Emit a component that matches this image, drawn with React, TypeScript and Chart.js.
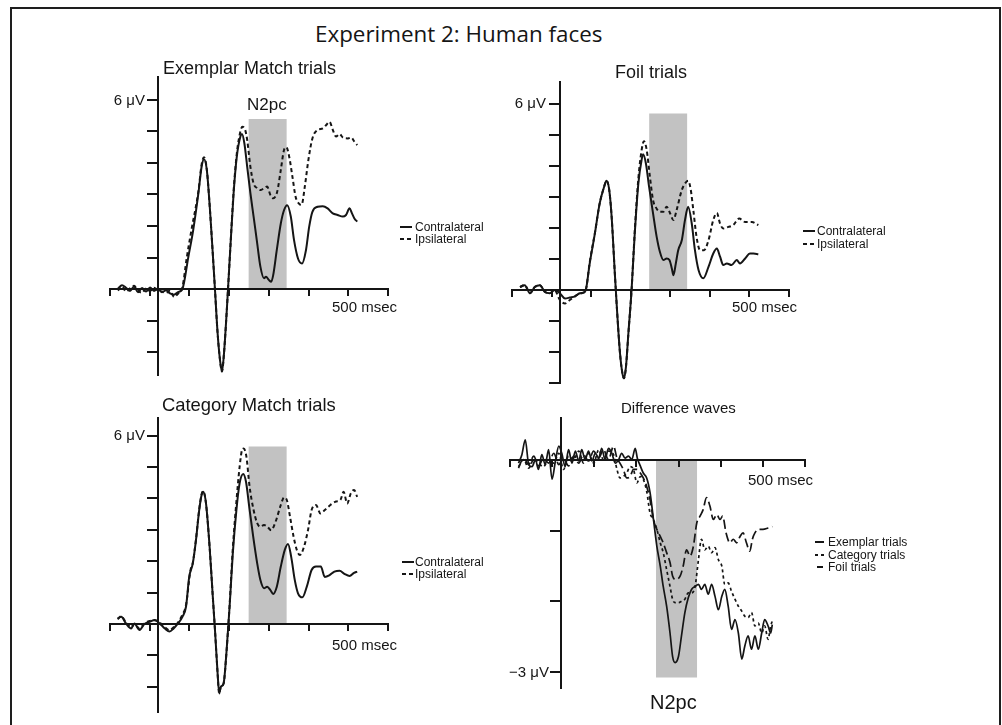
import React, { useEffect, useRef } from 'react';
import { Chart, registerables } from 'chart.js';

Chart.register(...registerables);

// ---------------- data (time in ms, amplitude in µV) ----------------
const exContraT = [-100,-90,-80,-70,-60,-50,-40,-30,-20,-10,0,10,20,30,40,50,61,76,88,101,109,115,122,130,139,143,149,155,160,165,172,181,189,197,206,210,216,223,231,239,248,256,265,270,277,283,288,297,307,315,323,332,340,350,360,370,378,386,399,412,424,437,449,462,470,479,485,491,498];
const exContraV = [0.02,0.12,0.04,-0.06,0.08,-0.1,0.03,-0.08,0.05,-0.06,0,-0.1,-0.04,-0.14,-0.18,-0.1,0,1.03,1.87,3.04,3.88,4.12,3.78,2.5,0.7,-0.14,-1.4,-2.25,-2.62,-2.04,-0.67,1.34,3.04,4.2,4.84,4.92,4.62,3.88,3.04,2.3,1.45,0.71,0.34,0.39,0.29,0.23,0.44,1.24,2.08,2.5,2.66,2.3,1.56,0.97,0.81,1.24,1.98,2.45,2.61,2.63,2.56,2.4,2.35,2.3,2.35,2.56,2.4,2.24,2.14];
const exIpsiT = [-100,-90,-80,-70,-60,-50,-40,-30,-20,-10,0,10,20,30,40,50,61,72,84,101,109,115,122,130,139,143,149,155,160,165,172,181,189,197,206,211,218,223,231,239,248,256,265,273,281,288,298,307,315,321,328,336,344,353,359,367,376,386,399,412,420,429,437,445,454,462,475,483,491,498];
const exIpsiV = [-0.05,0.08,-0.08,0.02,0.1,-0.05,-0.12,0.02,-0.06,0.04,-0.04,-0.08,-0.12,-0.05,-0.25,-0.15,0.05,1.0,1.9,3.1,3.95,4.18,3.8,2.5,0.7,-0.14,-1.4,-2.25,-2.62,-2.04,-0.67,1.34,3.1,4.3,5.0,5.15,5.05,4.73,3.88,3.35,3.2,3.14,3.2,3.25,2.98,2.88,3.09,3.78,4.41,4.5,4.2,3.57,2.93,2.7,2.67,3.25,4.1,4.78,5.05,5.1,5.2,5.31,5.05,4.84,4.92,4.81,4.78,4.81,4.68,4.57];

const foilContraT = [-100,-88,-75,-63,-50,-38,-25,-13,0,13,25,38,50,59,65,75,88,100,111,117,124,130,138,144,151,157,161,166,172,180,188,197,205,209,216,224,234,243,251,260,268,275,281,285,291,297,306,314,322,331,339,348,360,373,385,394,402,410,419,431,444,452,465,477,486,498];
const foilContraV = [0.1,0.16,-0.1,0.1,0.16,-0.05,-0.1,0,-0.1,-0.27,-0.24,-0.2,-0.1,-0.08,0,0.86,1.83,2.8,3.33,3.53,3.23,2.37,0.54,-0.75,-2.04,-2.69,-2.85,-2.47,-1.4,0,1.83,3.44,4.19,4.39,4.09,3.33,2.47,1.72,1.24,0.97,1.02,0.97,0.7,0.48,0.86,1.29,1.61,2.26,2.69,2.15,1.29,0.65,0.38,0.75,1.18,1.34,1.08,0.81,0.86,0.81,0.97,0.86,1.02,1.18,1.18,1.16];
const foilIpsiT = [-100,-88,-75,-63,-50,-38,-25,-13,0,13,25,38,50,59,65,75,88,100,111,117,124,130,138,144,151,157,161,166,172,180,188,197,205,211,218,226,234,243,251,260,268,276,285,293,306,314,322,328,335,343,352,362,373,385,394,402,410,423,435,450,465,482,498];
const foilIpsiV = [0.1,0.16,-0.1,0.1,0.16,-0.05,-0.1,0,-0.32,-0.43,-0.32,-0.2,-0.12,-0.08,0,0.9,1.85,2.8,3.33,3.53,3.23,2.37,0.54,-0.75,-2.04,-2.69,-2.85,-2.47,-1.4,0,1.9,3.6,4.5,4.81,4.52,3.66,2.9,2.63,2.53,2.53,2.69,2.5,2.26,2.58,3.23,3.44,3.53,3.28,2.58,1.72,1.29,1.29,1.61,2.26,2.49,2.15,1.99,2.04,2.1,2.31,2.2,2.2,2.1];

const catContraT = [-101,-92,-80,-67,-59,-46,-34,-21,-8,4,17,29,39,50,61,70,78,87,95,103,109,113,120,129,137,143,149,153,157,164,171,179,187,196,204,213,220,228,238,248,256,265,273,281,288,297,307,317,325,333,342,350,361,372,384,395,407,417,428,441,454,466,479,490,498];
const catContraV = [0.18,0.23,0.02,-0.14,0.02,-0.19,0,0.07,0.13,0.02,-0.14,-0.24,-0.14,0.02,0.23,0.55,1.5,1.93,2.68,3.63,4.11,4.21,3.84,2.46,0.87,-0.3,-1.57,-2.21,-2.0,-1.89,-0.93,0.55,2.25,3.63,4.48,4.78,4.53,3.74,2.78,1.93,1.4,1.14,1.19,1.08,0.96,1.19,1.83,2.36,2.55,2.14,1.4,0.98,0.85,1.19,1.72,1.83,1.83,1.5,1.55,1.67,1.7,1.6,1.53,1.63,1.67];
const catIpsiT = [-101,-92,-80,-67,-59,-46,-34,-21,-8,4,17,29,39,50,61,70,81,87,95,103,109,113,120,129,137,143,149,153,157,164,171,179,187,196,204,210,214,221,229,239,248,256,265,273,283,294,307,315,322,330,339,347,355,365,375,384,395,406,417,431,445,456,464,473,482,490,498];
const catIpsiV = [0.15,0.25,0.05,-0.1,0.0,-0.15,0.02,0.1,0.12,0.05,-0.1,-0.2,-0.1,0.05,0.3,0.6,1.7,1.95,2.7,3.65,4.13,4.23,3.84,2.46,0.87,-0.3,-1.57,-2.21,-2.0,-1.89,-0.93,0.6,2.4,3.9,5.0,5.54,5.59,5.33,4.37,3.63,3.21,3.1,3.15,3.1,2.99,3.26,3.79,4.03,3.95,3.42,2.78,2.36,2.2,2.46,2.99,3.63,3.79,3.52,3.63,3.79,3.9,3.95,4.21,3.84,4.16,4.27,4.05];

const diffExT = [-100,-92,-84,-76,-68,-60,-53,-45,-37,-29,-21,-13,-5,2,10,18,26,34,42,49,57,65,73,81,89,96,104,112,120,128,136,143,151,159,167,175,180,187,194,202,210,218,226,234,241,249,257,263,269,277,284,292,300,308,316,324,331,339,347,355,363,371,379,386,394,402,410,418,426,433,441,449,457,465,473,480,488,494,498];
const diffExV = [-0.04,0.08,0.29,-0.06,-0.09,0.01,-0.13,0.08,-0.06,0.15,-0.27,-0.01,0.2,0.1,-0.09,0.15,-0.04,0.13,-0.01,0.15,0.01,0.13,-0.01,0.1,0.03,0.17,0.01,0.17,0.1,-0.04,0.01,0.1,0.03,0.06,0.01,0.17,0.03,-0.08,-0.18,-0.25,-0.46,-0.84,-1.22,-1.5,-1.79,-2.07,-2.45,-2.78,-2.87,-2.78,-2.49,-2.16,-1.95,-1.83,-1.79,-1.76,-1.83,-1.76,-1.9,-1.76,-1.93,-2.12,-1.93,-1.83,-2.07,-2.4,-2.26,-2.45,-2.82,-2.64,-2.49,-2.68,-2.49,-2.68,-2.45,-2.26,-2.35,-2.45,-2.33];
const diffCatT = [-100,-88,-76,-64,-53,-41,-29,-17,-5,6,18,30,42,53,65,77,89,100,112,124,132,139,147,155,163,171,179,187,194,202,210,218,226,234,241,249,257,263,269,277,284,292,300,308,316,324,331,339,347,355,363,371,379,386,394,402,410,418,426,433,441,449,457,465,473,480,488,494,498];
const diffCatV = [-0.09,0.01,-0.11,0.01,-0.04,-0.09,0.01,-0.04,0.1,-0.13,0.06,0.01,0.13,-0.04,0.1,-0.04,0.15,0.01,0.13,0.08,-0.13,-0.25,-0.23,-0.18,-0.09,-0.13,-0.32,-0.23,-0.27,-0.44,-0.75,-0.84,-0.98,-1.17,-1.31,-1.55,-1.79,-1.97,-2.02,-2.02,-2.0,-1.97,-1.88,-1.88,-1.79,-1.41,-1.12,-1.27,-1.22,-1.31,-1.24,-1.41,-1.5,-1.76,-1.74,-1.86,-1.97,-2.07,-2.14,-2.21,-2.23,-2.16,-2.35,-2.31,-2.45,-2.35,-2.54,-2.35,-2.28];
const diffFoilT = [-100,-88,-76,-64,-53,-41,-29,-17,-5,6,18,30,42,53,65,77,89,100,112,124,132,139,147,155,163,171,179,187,194,202,210,218,226,234,241,249,257,263,271,281,288,296,304,312,320,328,335,343,351,359,367,375,381,389,398,406,414,422,429,437,445,451,457,465,476,488,498];
const diffFoilV = [-0.11,0.03,-0.06,0.06,-0.08,0.03,-0.04,0.1,-0.06,0.03,-0.08,0.06,-0.04,0.08,-0.01,0.13,0.03,0.15,0.01,0.2,0.03,-0.04,-0.13,-0.25,-0.23,-0.13,-0.13,-0.18,-0.25,-0.37,-0.56,-0.84,-0.98,-1.08,-1.17,-1.31,-1.45,-1.64,-1.69,-1.64,-1.5,-1.27,-1.36,-1.22,-0.89,-0.79,-0.7,-0.53,-0.65,-0.84,-0.77,-0.84,-0.79,-1.03,-1.17,-1.12,-1.17,-1.08,-1.03,-1.17,-1.29,-1.12,-1.03,-0.98,-0.98,-0.96,-0.94];

// N2pc window (ms) and shading extent (µV) per panel
const n2pcStart = [226, 224, 226, 224];
const n2pcEnd = [322, 320, 322, 321];
const n2pcExtent = [5.4, 5.7, 5.65, -3.08];

// tick labels
const xTickLabel = '500 msec';
const yTickLabels = ['6 μV', '6 μV', '6 μV', '−3 μV'];
const sideLegend = ['Contralateral', 'Ipsilateral'];
const diffLegend = ['Exemplar trials', 'Category trials', 'Foil trials'];

// ---------------- drawing ----------------
const SANS = '"Liberation Sans", Arial, Helvetica, sans-serif';
const INK = '#151515';
const PAD = { left: 60, top: 20, right: 60, bottom: 40 };

type Area = { left: number; top: number; right: number; bottom: number };
type Series = { t: number[]; v: number[]; dash: number[]; width: number };

function ErpChart(props: {
  area: Area; xMin: number; xMax: number; yMin: number; yMax: number;
  series: Series[]; idx: number;
}) {
  const { area, xMin, xMax, yMin, yMax, series, idx } = props;
  const ref = useRef<HTMLCanvasElement>(null);
  const w = area.right - area.left + PAD.left + PAD.right;
  const h = area.bottom - area.top + PAD.top + PAD.bottom;
  useEffect(() => {
    const datasets: any[] = series.map((s) => ({
      data: s.t.map((t, i) => ({ x: t, y: s.v[i] })),
      borderColor: INK,
      borderWidth: s.width,
      borderDash: s.dash,
      pointRadius: 0,
      fill: false,
      cubicInterpolationMode: 'monotone',
      order: 1,
    }));
    datasets.push({
      data: [
        { x: n2pcStart[idx], y: n2pcExtent[idx] },
        { x: n2pcEnd[idx], y: n2pcExtent[idx] },
      ],
      borderColor: 'rgba(0,0,0,0)',
      borderWidth: 0,
      backgroundColor: '#c2c2c2',
      fill: 'origin',
      pointRadius: 0,
      order: 5,
    });
    const chart = new Chart(ref.current as HTMLCanvasElement, {
      type: 'line',
      data: { datasets },
      options: {
        responsive: false,
        maintainAspectRatio: false,
        animation: false,
        layout: { padding: PAD },
        plugins: { legend: { display: false }, tooltip: { enabled: false }, title: { display: false } },
        scales: {
          x: {
            type: 'linear',
            min: xMin,
            max: xMax,
            position: { y: 0 } as any,
            afterFit: (s: any) => { s.height = 0; },
            grid: { drawOnChartArea: false, drawTicks: true, tickLength: 6, color: INK, lineWidth: 2, z: 1 },
            border: { display: true, color: INK, width: 2, z: 1 },
            ticks: { display: false, stepSize: 100, includeBounds: false, autoSkip: false, maxRotation: 0 },
          },
          y: {
            type: 'linear',
            min: yMin,
            max: yMax,
            position: { x: 0 } as any,
            afterFit: (s: any) => { s.width = 0; },
            grid: { drawOnChartArea: false, drawTicks: true, tickLength: 10, color: INK, lineWidth: 2, z: 1 },
            border: { display: true, color: INK, width: 2, z: 1 },
            ticks: { display: false, stepSize: 1, includeBounds: false, autoSkip: false },
          },
        },
      } as any,
    });
    return () => chart.destroy();
  }, []);
  return (
    <canvas
      ref={ref}
      width={w}
      height={h}
      style={{ position: 'absolute', left: area.left - PAD.left, top: area.top - PAD.top, width: w, height: h }}
    />
  );
}

function Txt(props: { x: number; base: number; size: number; text: string; family?: string; k?: number; right?: boolean }) {
  const { x, base, size, text, right } = props;
  const family = props.family || SANS;
  const k = props.k ?? 0.846;
  const pos: any = right ? { right: 1002 - x } : { left: x };
  return (
    <div
      style={{
        position: 'absolute', ...pos, top: base - k * size, fontFamily: family, fontSize: size,
        lineHeight: `${size}px`, color: INK, whiteSpace: 'nowrap',
      }}
    >
      {text}
    </div>
  );
}

function LegendRow(props: { x: number; len: number; y: number; dash?: string; textX: number; text: string; size: number }) {
  const { x, len, y, dash, textX, text, size } = props;
  return (
    <>
      <svg style={{ position: 'absolute', left: x, top: y - 2, overflow: 'visible' }} width={len} height={4}>
        <line x1={0} y1={2} x2={len} y2={2} stroke={INK} strokeWidth={2} strokeDasharray={dash} />
      </svg>
      <Txt x={textX} base={y + 0.36 * size} size={size} text={text} />
    </>
  );
}

export default function App() {
  const p1: Area = { left: 110, top: 77, right: 388, bottom: 375 };
  const p2: Area = { left: 512, top: 82, right: 789, bottom: 383 };
  const p3: Area = { left: 110, top: 418, right: 388, bottom: 712 };
  const p4: Area = { left: 510, top: 418, right: 805, bottom: 688 };
  const solid: number[] = [];
  const dotted = [4, 3];
  return (
    <div style={{ position: 'fixed', left: 0, top: 0, width: 1002, height: 725, background: '#fff', overflow: 'hidden' }}>
      <div style={{ position: 'absolute', left: 10, top: 7, width: 991, height: 760, border: '2px solid #1e1e1e', boxSizing: 'border-box' }} />
      <Txt x={315} base={42.5} size={22.4} family={'"Open Sans", sans-serif'} k={0.888} text="Experiment 2: Human faces" />

      <ErpChart area={p1} xMin={-120} xMax={575} yMin={-2.73} yMax={6.73} idx={0}
        series={[
          { t: exContraT, v: exContraV, dash: solid, width: 2 },
          { t: exIpsiT, v: exIpsiV, dash: dotted, width: 2 },
        ]} />
      <ErpChart area={p2} xMin={-120} xMax={575} yMin={-3.0} yMax={6.72} idx={1}
        series={[
          { t: foilContraT, v: foilContraV, dash: solid, width: 2 },
          { t: foilIpsiT, v: foilIpsiV, dash: dotted, width: 2 },
        ]} />
      <ErpChart area={p3} xMin={-120} xMax={575} yMin={-2.8} yMax={6.56} idx={2}
        series={[
          { t: catContraT, v: catContraV, dash: solid, width: 2 },
          { t: catIpsiT, v: catIpsiV, dash: dotted, width: 2 },
        ]} />
      <ErpChart area={p4} xMin={-120} xMax={575} yMin={-3.23} yMax={0.6} idx={3}
        series={[
          { t: diffExT, v: diffExV, dash: solid, width: 1.7 },
          { t: diffCatT, v: diffCatV, dash: [3, 3], width: 1.7 },
          { t: diffFoilT, v: diffFoilV, dash: [9, 4], width: 1.7 },
        ]} />

      <Txt x={163} base={74} size={18} text="Exemplar Match trials" />
      <Txt x={615} base={78} size={18} text="Foil trials" />
      <Txt x={162} base={412} size={18.4} text="Category Match trials" />
      <Txt x={621} base={413} size={15} text="Difference waves" />
      <Txt x={247} base={110} size={17} text="N2pc" />
      <Txt x={650} base={709} size={20} text="N2pc" />

      <Txt x={332} base={312} size={15} text={xTickLabel} />
      <Txt x={732} base={312} size={15} text={xTickLabel} />
      <Txt x={332} base={650} size={15} text={xTickLabel} />
      <Txt x={748} base={485} size={15} text={xTickLabel} />
      <Txt x={145} base={105} size={15} right text={yTickLabels[0]} />
      <Txt x={546} base={108} size={15} right text={yTickLabels[1]} />
      <Txt x={145} base={440} size={15} right text={yTickLabels[2]} />
      <Txt x={549} base={677} size={15} right text={yTickLabels[3]} />

      <LegendRow x={400} len={12} y={227} textX={415} text={sideLegend[0]} size={12} />
      <LegendRow x={400} len={12} y={239} dash="4 3" textX={415} text={sideLegend[1]} size={12} />
      <LegendRow x={803} len={12} y={231} textX={817} text={sideLegend[0]} size={12} />
      <LegendRow x={803} len={12} y={244} dash="4 3" textX={817} text={sideLegend[1]} size={12} />
      <LegendRow x={402} len={12} y={562} textX={415} text={sideLegend[0]} size={12} />
      <LegendRow x={402} len={12} y={574} dash="4 3" textX={415} text={sideLegend[1]} size={12} />
      <LegendRow x={815} len={9} y={542} textX={828} text={diffLegend[0]} size={12} />
      <LegendRow x={815} len={9} y={555} dash="3 3" textX={828} text={diffLegend[1]} size={12} />
      <LegendRow x={817} len={6} y={567} textX={828} text={diffLegend[2]} size={12} />
    </div>
  );
}
